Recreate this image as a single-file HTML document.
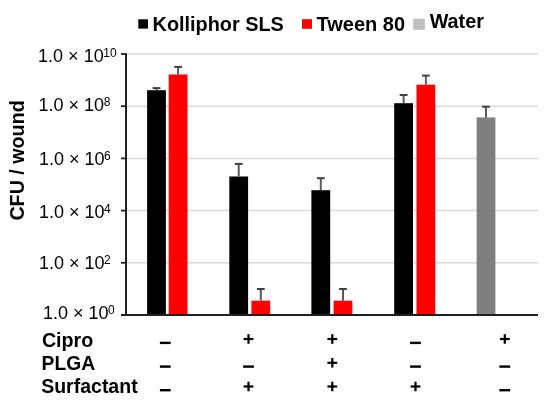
<!DOCTYPE html>
<html><head><meta charset="utf-8"><style>
html,body{margin:0;padding:0;background:#fff;}
body{width:550px;height:406px;overflow:hidden;position:relative;}
svg{position:absolute;left:0;top:0;filter:blur(0.3px);}
svg text{font-family:"Liberation Sans", sans-serif;fill:#000;}
</style></head><body>
<svg width="550" height="406" viewBox="0 0 550 406">
<line x1="127" y1="54" x2="538" y2="54" stroke="#d9d9d9" stroke-width="1.5"/>
<line x1="127" y1="106.2" x2="538" y2="106.2" stroke="#d9d9d9" stroke-width="1.5"/>
<line x1="127" y1="158.4" x2="538" y2="158.4" stroke="#d9d9d9" stroke-width="1.5"/>
<line x1="127" y1="210.6" x2="538" y2="210.6" stroke="#d9d9d9" stroke-width="1.5"/>
<line x1="127" y1="262.8" x2="538" y2="262.8" stroke="#d9d9d9" stroke-width="1.5"/>
<rect x="147.10" y="90.2" width="18.8" height="224.80" fill="#000000"/>
<line x1="156.50" y1="90.2" x2="156.50" y2="88.1" stroke="#595959" stroke-width="2"/>
<line x1="152.60" y1="88.1" x2="160.40" y2="88.1" stroke="#404040" stroke-width="2"/>
<rect x="168.70" y="74.5" width="18.8" height="240.50" fill="#ff0000"/>
<line x1="178.10" y1="74.5" x2="178.10" y2="66.9" stroke="#595959" stroke-width="2"/>
<line x1="174.20" y1="66.9" x2="182.00" y2="66.9" stroke="#404040" stroke-width="2"/>
<rect x="229.30" y="176.5" width="18.8" height="138.50" fill="#000000"/>
<line x1="238.70" y1="176.5" x2="238.70" y2="163.9" stroke="#595959" stroke-width="2"/>
<line x1="234.80" y1="163.9" x2="242.60" y2="163.9" stroke="#404040" stroke-width="2"/>
<rect x="251.40" y="300.7" width="18.8" height="14.30" fill="#ff0000"/>
<line x1="260.80" y1="300.7" x2="260.80" y2="289.0" stroke="#595959" stroke-width="2"/>
<line x1="256.90" y1="289.0" x2="264.70" y2="289.0" stroke="#404040" stroke-width="2"/>
<rect x="311.40" y="190.2" width="18.8" height="124.80" fill="#000000"/>
<line x1="320.80" y1="190.2" x2="320.80" y2="178.2" stroke="#595959" stroke-width="2"/>
<line x1="316.90" y1="178.2" x2="324.70" y2="178.2" stroke="#404040" stroke-width="2"/>
<rect x="333.60" y="300.7" width="18.8" height="14.30" fill="#ff0000"/>
<line x1="343.00" y1="300.7" x2="343.00" y2="289.0" stroke="#595959" stroke-width="2"/>
<line x1="339.10" y1="289.0" x2="346.90" y2="289.0" stroke="#404040" stroke-width="2"/>
<rect x="394.20" y="103.2" width="18.8" height="211.80" fill="#000000"/>
<line x1="403.60" y1="103.2" x2="403.60" y2="95.0" stroke="#595959" stroke-width="2"/>
<line x1="399.70" y1="95.0" x2="407.50" y2="95.0" stroke="#404040" stroke-width="2"/>
<rect x="416.50" y="84.7" width="18.8" height="230.30" fill="#ff0000"/>
<line x1="425.90" y1="84.7" x2="425.90" y2="75.6" stroke="#595959" stroke-width="2"/>
<line x1="422.00" y1="75.6" x2="429.80" y2="75.6" stroke="#404040" stroke-width="2"/>
<rect x="476.60" y="117.4" width="18.8" height="197.60" fill="#7f7f7f"/>
<line x1="486.00" y1="117.4" x2="486.00" y2="106.7" stroke="#595959" stroke-width="2"/>
<line x1="482.10" y1="106.7" x2="489.90" y2="106.7" stroke="#404040" stroke-width="2"/>
<line x1="126" y1="53.3" x2="126" y2="316" stroke="#1f1f1f" stroke-width="2"/>
<line x1="121" y1="315" x2="538" y2="315" stroke="#1f1f1f" stroke-width="2"/>
<line x1="121" y1="54" x2="126" y2="54" stroke="#1f1f1f" stroke-width="1.8"/>
<line x1="121" y1="106.2" x2="126" y2="106.2" stroke="#1f1f1f" stroke-width="1.8"/>
<line x1="121" y1="158.4" x2="126" y2="158.4" stroke="#1f1f1f" stroke-width="1.8"/>
<line x1="121" y1="210.6" x2="126" y2="210.6" stroke="#1f1f1f" stroke-width="1.8"/>
<line x1="121" y1="262.8" x2="126" y2="262.8" stroke="#1f1f1f" stroke-width="1.8"/>
<text x="38.10" y="62.4" font-size="18">1.0 × 10<tspan font-size="12" dx="-0.4" dy="-5.0">10</tspan></text>
<text x="38.50" y="111.0" font-size="18">1.0 × 10<tspan font-size="12" dx="-0.4" dy="-5.0">8</tspan></text>
<text x="38.90" y="164.8" font-size="18">1.0 × 10<tspan font-size="12" dx="-0.4" dy="-5.0">6</tspan></text>
<text x="38.90" y="217.9" font-size="18">1.0 × 10<tspan font-size="12" dx="-0.4" dy="-5.0">4</tspan></text>
<text x="38.90" y="268.5" font-size="18">1.0 × 10<tspan font-size="12" dx="-0.4" dy="-5.0">2</tspan></text>
<text x="42.90" y="318.9" font-size="18">1.0 × 10<tspan font-size="12" dx="-0.4" dy="-5.0">0</tspan></text>
<rect x="138.3" y="19.3" width="9.7" height="9.3" fill="#000"/>
<text x="152.6" y="31.1" font-size="19.85" font-weight="bold">Kolliphor SLS</text>
<rect x="302" y="19.2" width="10" height="9.6" fill="#ff0000"/>
<text x="316.5" y="30.8" font-size="20" font-weight="bold">Tween 80</text>
<rect x="413.2" y="18.7" width="11.6" height="11.1" fill="#bfbfbf"/>
<text x="429.7" y="27.6" font-size="19.75" font-weight="bold">Water</text>
<text transform="translate(23.6,220.6) rotate(-90)" x="0" y="0" font-size="19.7" font-weight="bold">CFU / wound</text>
<text x="41.9" y="346.8" font-size="19.7" font-weight="bold">Cipro</text>
<text x="41.6" y="370" font-size="19.3" font-weight="bold">PLGA</text>
<text x="41.2" y="393.4" font-size="19.5" font-weight="bold">Surfactant</text>
<line x1="159.90" y1="342.9" x2="170.70" y2="342.9" stroke="#000" stroke-width="2.4"/>
<line x1="243.60" y1="339" x2="253.40" y2="339" stroke="#000" stroke-width="2.2"/>
<line x1="248.50" y1="334.2" x2="248.50" y2="343.8" stroke="#000" stroke-width="2.2"/>
<line x1="327.40" y1="339" x2="337.20" y2="339" stroke="#000" stroke-width="2.2"/>
<line x1="332.30" y1="334.2" x2="332.30" y2="343.8" stroke="#000" stroke-width="2.2"/>
<line x1="410.10" y1="342.9" x2="420.90" y2="342.9" stroke="#000" stroke-width="2.4"/>
<line x1="499.90" y1="339" x2="509.70" y2="339" stroke="#000" stroke-width="2.2"/>
<line x1="504.80" y1="334.2" x2="504.80" y2="343.8" stroke="#000" stroke-width="2.2"/>
<line x1="159.90" y1="366.6" x2="170.70" y2="366.6" stroke="#000" stroke-width="2.4"/>
<line x1="243.10" y1="366.6" x2="253.90" y2="366.6" stroke="#000" stroke-width="2.4"/>
<line x1="327.40" y1="362.8" x2="337.20" y2="362.8" stroke="#000" stroke-width="2.2"/>
<line x1="332.30" y1="358.0" x2="332.30" y2="367.6" stroke="#000" stroke-width="2.2"/>
<line x1="410.10" y1="366.6" x2="420.90" y2="366.6" stroke="#000" stroke-width="2.4"/>
<line x1="499.40" y1="366.6" x2="510.20" y2="366.6" stroke="#000" stroke-width="2.4"/>
<line x1="159.90" y1="390.2" x2="170.70" y2="390.2" stroke="#000" stroke-width="2.4"/>
<line x1="243.60" y1="386.5" x2="253.40" y2="386.5" stroke="#000" stroke-width="2.2"/>
<line x1="248.50" y1="381.7" x2="248.50" y2="391.3" stroke="#000" stroke-width="2.2"/>
<line x1="327.40" y1="386.5" x2="337.20" y2="386.5" stroke="#000" stroke-width="2.2"/>
<line x1="332.30" y1="381.7" x2="332.30" y2="391.3" stroke="#000" stroke-width="2.2"/>
<line x1="410.60" y1="386.5" x2="420.40" y2="386.5" stroke="#000" stroke-width="2.2"/>
<line x1="415.50" y1="381.7" x2="415.50" y2="391.3" stroke="#000" stroke-width="2.2"/>
<line x1="499.40" y1="390.2" x2="510.20" y2="390.2" stroke="#000" stroke-width="2.4"/>
</svg>
</body></html>
